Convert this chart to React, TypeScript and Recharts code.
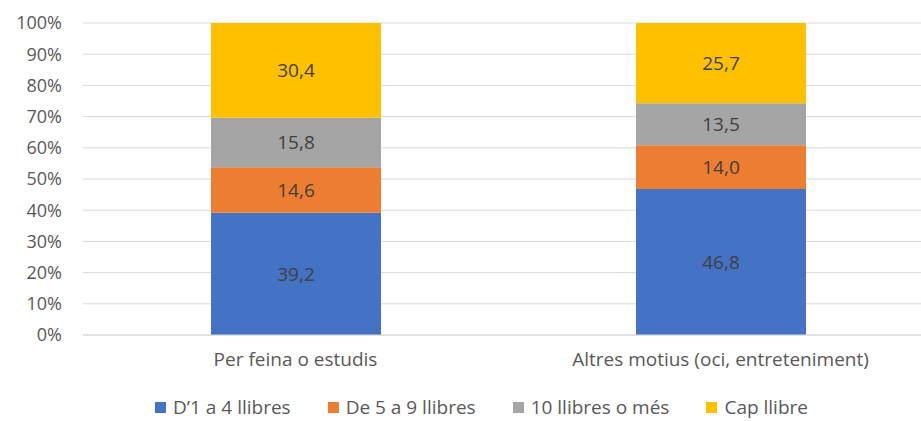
import { BarChart, Bar, XAxis, YAxis, CartesianGrid, Legend, LabelList } from 'recharts';

const categories = ['Per feina o estudis', 'Altres motius (oci, entreteniment)'];
const seriesNames = ['D’1 a 4 llibres', 'De 5 a 9 llibres', '10 llibres o més', 'Cap llibre'];
const oneToFour = [39.2, 46.8];
const fiveToNine = [14.6, 14.0];
const tenOrMore = [15.8, 13.5];
const none = [30.4, 25.7];
const yTicks = [0, 10, 20, 30, 40, 50, 60, 70, 80, 90, 100];

const COLORS = ['#4472C4', '#ED7D31', '#A5A5A5', '#FFC000'];
const KEYS = ['a', 'b', 'c', 'd'];
const FONT = '"Open Sans", "Noto Sans", sans-serif';

const data = categories.map((name, i) => ({
  name,
  a: oneToFour[i],
  b: fiveToNine[i],
  c: tenOrMore[i],
  d: none[i],
}));

const fmt = (v: number) => v.toFixed(1).replace('.', ',');

function LegendContent() {
  return (
    <div style={{ display: 'flex', justifyContent: 'center', paddingTop: 17, paddingLeft: 30, fontFamily: FONT, fontSize: 19, lineHeight: '20px', color: '#595959' }}>
      {seriesNames.map((n, i) => (
        <div key={n} style={{ display: 'flex', alignItems: 'center', marginRight: i < 3 ? 37 : 0 }}>
          <span style={{ display: 'inline-block', width: 11, height: 11, background: COLORS[i], marginRight: 7 }} />
          <span>{n}</span>
        </div>
      ))}
    </div>
  );
}

export default function App() {
  return (
    <div style={{ width: 921, height: 421, background: '#fff', overflow: 'hidden' }}>
      <style>{'body{margin:0}'}</style>
      <BarChart width={921} height={421} data={data} margin={{ top: 23, right: -12, left: 0, bottom: 0 }} barSize={170}>
        <CartesianGrid vertical={false} stroke="#D9D9D9" />
        <XAxis
          dataKey="name"
          height={45}
          tickLine={false}
          axisLine={{ stroke: '#D9D9D9' }}
          tick={{ fill: '#595959', fontSize: 19, fontFamily: FONT }}
          tickMargin={12}
        />
        <YAxis
          width={83}
          domain={[0, 100]}
          ticks={yTicks}
          tickFormatter={(v: number) => `${v}%`}
          axisLine={false}
          tickLine={false}
          tickSize={0}
          tickMargin={21}
          tick={{ fill: '#595959', fontSize: 18, fontFamily: FONT }}
          interval={0}
        />
        <Legend verticalAlign="bottom" height={41} content={<LegendContent />} />
        {KEYS.map((k, i) => (
          <Bar key={k} dataKey={k} name={seriesNames[i]} stackId="s" fill={COLORS[i]} isAnimationActive={false}>
            <LabelList dataKey={k} position="center" formatter={(v: number) => fmt(v)} fill="#404040" fontSize={19} fontFamily={FONT} />
          </Bar>
        ))}
      </BarChart>
    </div>
  );
}
